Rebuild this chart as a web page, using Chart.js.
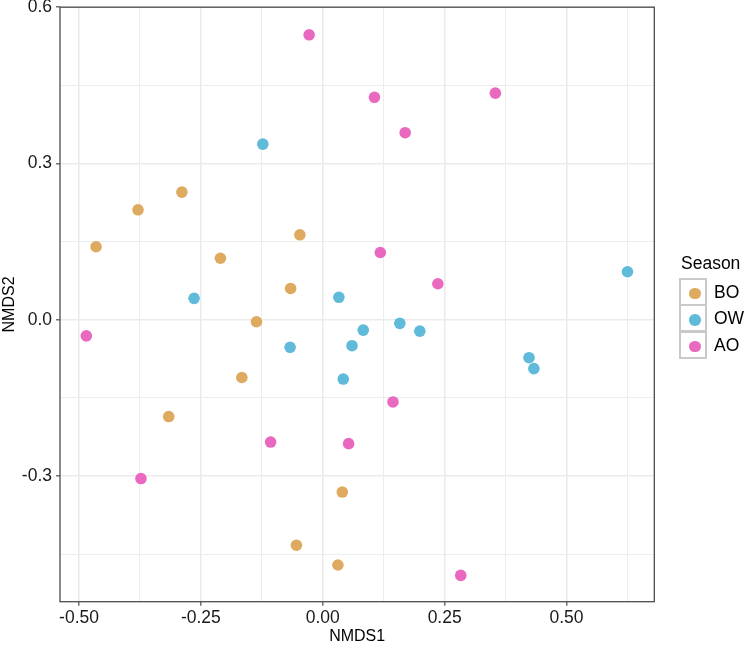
<!DOCTYPE html>
<html>
<head>
<meta charset="utf-8">
<script src="https://cdn.jsdelivr.net/npm/chart.js@4"></script>
<style>
  html, body { margin: 0; padding: 0; background: #fff; }
  #wrap { position: relative; width: 747px; height: 645px; font-family: "Liberation Sans", Arial, sans-serif; }
  #leyenda { position: absolute; left: 679px; top: 0; }
  #leyenda .titulo { position: absolute; left: 2px; top: 253px; font-size: 17.5px; line-height: 20px; color: #000; white-space: nowrap; }
  #leyenda .caja { position: absolute; left: 0; width: 28px; height: 28px; box-sizing: border-box; border: 2px solid #c9c9c9; background: #fff; }
  #leyenda .punto { position: absolute; left: 8px; top: 8px; width: 11.5px; height: 11.5px; border-radius: 50%; }
  #leyenda .etiqueta { position: absolute; left: 35px; font-size: 17.5px; line-height: 20px; color: #000; white-space: nowrap; }
</style>
</head>
<body>
<div id="wrap">
  <canvas id="grafico" width="747" height="645"></canvas>
  <div id="leyenda"></div>
</div>
<script>
// Datos (coordenadas NMDS)
const temporadas = ["BO", "OW", "AO"];
const colores = ["#DEAA5F", "#60BADA", "#E969C0"];

const boX = [-0.465, -0.379, -0.289, -0.210, -0.047, -0.066, -0.136, -0.166, -0.316, 0.040, -0.054, 0.031];
const boY = [0.140, 0.211, 0.245, 0.118, 0.163, 0.060, -0.004, -0.111, -0.186, -0.331, -0.433, -0.471];

const owX = [-0.264, -0.123, 0.033, 0.625, -0.067, 0.083, 0.060, 0.158, 0.199, 0.042, 0.423, 0.433];
const owY = [0.041, 0.337, 0.043, 0.092, -0.053, -0.020, -0.050, -0.007, -0.022, -0.114, -0.073, -0.094];

const aoX = [-0.028, 0.106, 0.169, 0.118, 0.236, 0.354, -0.485, -0.373, 0.144, -0.107, 0.053, 0.283];
const aoY = [0.547, 0.427, 0.359, 0.129, 0.069, 0.435, -0.031, -0.305, -0.158, -0.235, -0.238, -0.491];

// Marcas de los ejes (principales con etiqueta, secundarias solo rejilla)
const xMayores = [-0.5, -0.25, 0, 0.25, 0.5];
const xMenores = [-0.375, -0.125, 0.125, 0.375, 0.625];
const yMayores = [-0.3, 0, 0.3, 0.6];
const yMenores = [-0.45, -0.15, 0.15, 0.45];

const xRango = [-0.539, 0.680];
const yRango = [-0.5415, 0.600];

const series = [[boX, boY], [owX, owY], [aoX, aoY]];

function esMayor(lista, v) {
  return lista.some((m) => Math.abs(m - v) < 1e-9);
}

function puntos(xs, ys) {
  return xs.map((x, i) => ({ x: x, y: ys[i] }));
}

const fuente = "'Liberation Sans', Arial, sans-serif";

// Marco del panel (como theme_bw)
const marcoPanel = {
  id: "marcoPanel",
  beforeDatasetsDraw(chart) {
    const { ctx, chartArea } = chart;
    ctx.save();
    ctx.strokeStyle = "#4d4d4d";
    ctx.lineWidth = 1.3;
    ctx.strokeRect(chartArea.left, chartArea.top, chartArea.right - chartArea.left, chartArea.bottom - chartArea.top);
    ctx.restore();
  },
};

function opcionesEje(mayores, menores, decimales) {
  const todas = mayores.concat(menores).sort((a, b) => a - b);
  return {
    afterBuildTicks: (eje) => {
      eje.ticks = todas.map((v) => ({ value: v }));
    },
    grid: {
      color: "#EBEBEB",
      lineWidth: (c) => (c.tick && esMayor(mayores, c.tick.value) ? 1.6 : 0.9),
      tickColor: (c) => (c.tick && esMayor(mayores, c.tick.value) ? "#4d4d4d" : "rgba(0,0,0,0)"),
      tickWidth: 1.2,
      tickLength: 4,
    },
    border: { display: false },
    ticks: {
      autoSkip: false,
      maxRotation: 0,
      color: "#1a1a1a",
      font: { family: fuente, size: 17.5 },
      callback: (v) => (esMayor(mayores, v) ? v.toFixed(decimales) : ""),
    },
  };
}

const ejeX = opcionesEje(xMayores, xMenores, 2);
ejeX.type = "linear";
ejeX.min = xRango[0];
ejeX.max = xRango[1];
ejeX.ticks.padding = 2;
ejeX.title = { display: true, text: "NMDS1", color: "#000", font: { family: fuente, size: 16, lineHeight: 1 }, padding: 0 };
ejeX.afterFit = (eje) => {
  eje.height = 43.3;
  eje.paddingLeft = 0;
  eje.paddingRight = 0;
};

const ejeY = opcionesEje(yMayores, yMenores, 1);
ejeY.min = yRango[0];
ejeY.max = yRango[1];
ejeY.ticks.padding = 4;
ejeY.title = { display: true, text: "NMDS2", color: "#000", font: { family: fuente, size: 16 }, padding: 0 };
ejeY.afterFit = (eje) => {
  eje.width = 60;
  eje.paddingTop = 0;
  eje.paddingBottom = 0;
};

new Chart(document.getElementById("grafico"), {
  type: "scatter",
  data: {
    datasets: temporadas.map((t, i) => ({
      label: t,
      data: puntos(series[i][0], series[i][1]),
      backgroundColor: colores[i],
      borderWidth: 0,
      pointRadius: 5.8,
      pointHoverRadius: 5.8,
    })),
  },
  options: {
    responsive: false,
    animation: false,
    layout: { padding: { top: 7.2, right: 92.7, bottom: 0, left: 0 } },
    plugins: { legend: { display: false }, tooltip: { enabled: false } },
    scales: { x: ejeX, y: ejeY },
  },
  plugins: [marcoPanel],
});

// Leyenda al estilo ggplot
const leyenda = document.getElementById("leyenda");
const titulo = document.createElement("div");
titulo.className = "titulo";
titulo.textContent = "Season";
leyenda.appendChild(titulo);
temporadas.forEach((t, i) => {
  const top = 277.5 + i * 26.7;
  const caja = document.createElement("div");
  caja.className = "caja";
  caja.style.top = top + "px";
  const punto = document.createElement("div");
  punto.className = "punto";
  punto.style.background = colores[i];
  caja.appendChild(punto);
  leyenda.appendChild(caja);
  const etiqueta = document.createElement("div");
  etiqueta.className = "etiqueta";
  etiqueta.style.top = top + 4 + "px";
  etiqueta.textContent = t;
  leyenda.appendChild(etiqueta);
});
</script>
</body>
</html>
